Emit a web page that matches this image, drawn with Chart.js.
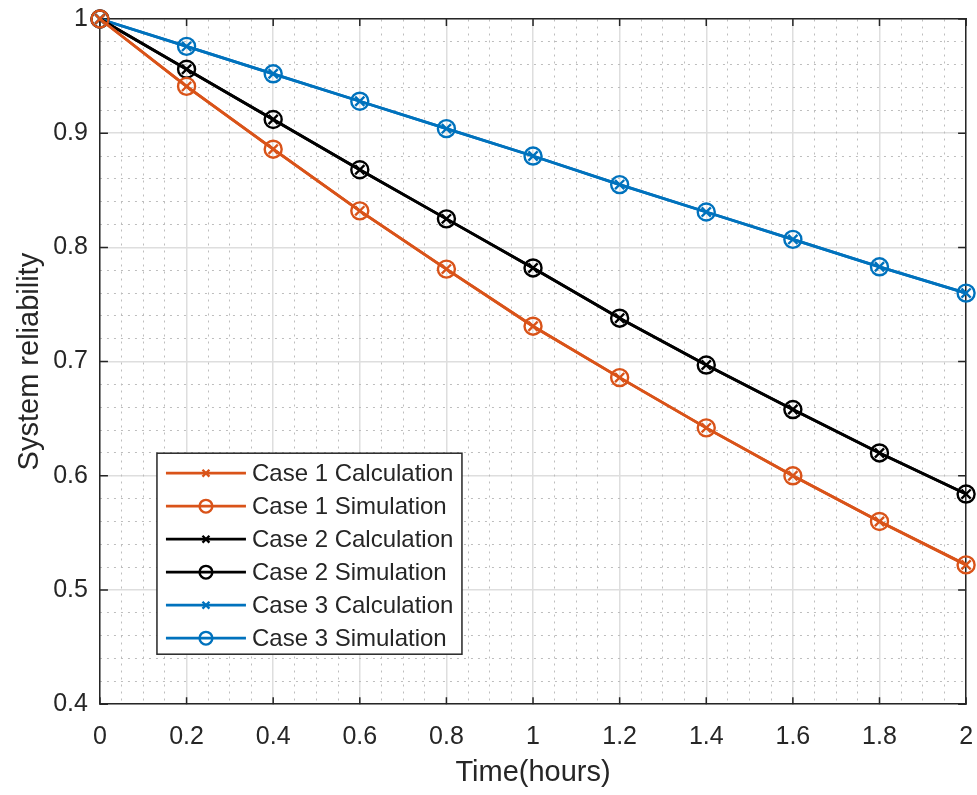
<!DOCTYPE html>
<html>
<head>
<meta charset="utf-8">
<title>System reliability</title>
<script src="https://cdn.jsdelivr.net/npm/chart.js@4.4.1/dist/chart.umd.min.js"></script>
<style>
  html, body { margin: 0; padding: 0; background: #fff; }
  #wrap { width: 977px; height: 795px; position: relative; }
</style>
</head>
<body>
<div id="wrap"><canvas id="reliabilityChart"></canvas></div>
<script>
// time axis (hours) and reliability for each case
const times = [0, 0.2, 0.4, 0.6, 0.8, 1.0, 1.2, 1.4, 1.6, 1.8, 2.0];

const case1Calc = [1, 0.941, 0.886, 0.832, 0.781, 0.731, 0.686, 0.642, 0.600, 0.560, 0.522];
const case1Sim  = [1, 0.941, 0.886, 0.832, 0.781, 0.731, 0.686, 0.642, 0.600, 0.560, 0.522];
const case2Calc = [1, 0.956, 0.912, 0.868, 0.825, 0.782, 0.738, 0.697, 0.658, 0.620, 0.584];
const case2Sim  = [1, 0.956, 0.912, 0.868, 0.825, 0.782, 0.738, 0.697, 0.658, 0.620, 0.584];
const case3Calc = [1, 0.976, 0.952, 0.928, 0.904, 0.880, 0.855, 0.831, 0.807, 0.783, 0.760];
const case3Sim  = [1, 0.976, 0.952, 0.928, 0.904, 0.880, 0.855, 0.831, 0.807, 0.783, 0.760];

const xTicks = [0, 0.2, 0.4, 0.6, 0.8, 1, 1.2, 1.4, 1.6, 1.8, 2];
const yTicks = [0.4, 0.5, 0.6, 0.7, 0.8, 0.9, 1];

const ORANGE = '#D95319';
const BLACK = '#000000';
const BLUE = '#0072BD';
const AXIS = '#262626';
const FONT = "'Liberation Sans', Arial, Helvetica, sans-serif";

const toPoints = vals => vals.map((v, i) => ({ x: times[i], y: v }));

function makeSeries(label, vals, color, style) {
    const isCircle = style === 'circle';
    return {
        label: label,
        data: toPoints(vals),
        borderColor: color,
        backgroundColor: color,
        borderWidth: 2.8,
        pointStyle: style,
        pointRadius: isCircle ? 8.5 : 6.5,
        pointBorderWidth: 2.4,
        pointBackgroundColor: 'rgba(0,0,0,0)',
        pointBorderColor: color,
        clip: false,
        tension: 0
    };
}

const datasets = [
    makeSeries('Case 1 Calculation', case1Calc, ORANGE, 'crossRot'),
    makeSeries('Case 1 Simulation', case1Sim, ORANGE, 'circle'),
    makeSeries('Case 2 Calculation', case2Calc, BLACK, 'crossRot'),
    makeSeries('Case 2 Simulation', case2Sim, BLACK, 'circle'),
    makeSeries('Case 3 Calculation', case3Calc, BLUE, 'crossRot'),
    makeSeries('Case 3 Simulation', case3Sim, BLUE, 'circle')
];

// inward tick marks on all four sides of the box
const innerTicks = {
    id: 'innerTicks',
    beforeDatasetsDraw(chart) {
        const { ctx, chartArea: a, scales } = chart;
        ctx.save();
        ctx.strokeStyle = AXIS;
        ctx.lineWidth = 1.5;
        ctx.beginPath();
        xTicks.forEach(v => {
            const px = scales.x.getPixelForValue(v);
            ctx.moveTo(px, a.bottom); ctx.lineTo(px, a.bottom - 7);
            ctx.moveTo(px, a.top); ctx.lineTo(px, a.top + 7);
        });
        yTicks.forEach(v => {
            const py = scales.y.getPixelForValue(v);
            ctx.moveTo(a.left, py); ctx.lineTo(a.left + 8, py);
            ctx.moveTo(a.right, py); ctx.lineTo(a.right - 8, py);
        });
        ctx.stroke();
        ctx.restore();
    }
};

// boxed legend in the lower-left of the plot area
const boxLegend = {
    id: 'boxLegend',
    afterDraw(chart) {
        const { ctx, chartArea: a } = chart;
        const left = a.left + 57, top = a.bottom - 251;
        const w = 305, h = 201, rowH = 33;
        ctx.save();
        ctx.fillStyle = '#fff';
        ctx.fillRect(left, top, w, h);
        ctx.strokeStyle = AXIS;
        ctx.lineWidth = 1.5;
        ctx.strokeRect(left, top, w, h);
        ctx.font = '24px ' + FONT;
        ctx.textBaseline = 'middle';
        chart.data.datasets.forEach((ds, i) => {
            const cy = top + 20 + i * rowH;
            ctx.strokeStyle = ds.borderColor;
            ctx.lineWidth = ds.borderWidth;
            ctx.beginPath();
            ctx.moveTo(left + 9, cy);
            ctx.lineTo(left + 89, cy);
            ctx.stroke();
            ctx.fillStyle = 'rgba(0,0,0,0)';
            ctx.lineWidth = ds.pointBorderWidth;
            Chart.helpers.drawPoint(ctx, {
                pointStyle: ds.pointStyle,
                radius: ds.pointRadius * 0.75,
                borderWidth: ds.pointBorderWidth,
                rotation: 0
            }, left + 49, cy);
            ctx.fillStyle = AXIS;
            ctx.fillText(ds.label, left + 95, cy + 1);
        });
        ctx.restore();
    }
};

const fmt = v => String(Number(v.toFixed(2)));

new Chart(document.getElementById('reliabilityChart'), {
    type: 'line',
    data: { datasets: datasets },
    options: {
        responsive: true,
        maintainAspectRatio: false,
        animation: false,
        layout: { padding: { top: 0, right: 0, left: 18, bottom: 19 } },
        plugins: {
            legend: { display: false },
            tooltip: { enabled: false }
        },
        scales: {
            x: {
                type: 'linear',
                min: 0, max: 2,
                afterBuildTicks: axis => { axis.ticks = xTicks.map(v => ({ value: v })); },
                ticks: { font: { family: FONT, size: 25, lineHeight: 2.48 }, color: AXIS, padding: 2, callback: fmt, maxRotation: 0, autoSkip: false },
                grid: { color: '#dedede', lineWidth: 1.5, drawTicks: false },
                border: { color: AXIS, width: 1.5 },
                title: { display: true, text: 'Time(hours)', color: AXIS, font: { family: FONT, size: 29, lineHeight: 0.2 }, padding: 0 }
            },
            y: {
                min: 0.4, max: 1,
                afterBuildTicks: axis => { axis.ticks = yTicks.map(v => ({ value: v })); },
                ticks: { font: { family: FONT, size: 25, lineHeight: 0.56 }, color: AXIS, padding: 12, callback: fmt, autoSkip: false },
                grid: { color: '#dedede', lineWidth: 1.5, drawTicks: false },
                border: { color: AXIS, width: 1.5 },
                title: { display: true, text: 'System reliability', color: AXIS, font: { family: FONT, size: 29, lineHeight: 0.8 }, padding: 0 }
            },
            // minor grid (dotted) plus the top/right edges of the box
            x2: {
                type: 'linear',
                position: 'top',
                min: 0, max: 2,
                ticks: { display: false, stepSize: 0.05, padding: 0 },
                grid: {
                    drawTicks: false,
                    lineWidth: 1,
                    color: c => (Math.round(c.tick.value * 20) % 4 === 0 ? 'rgba(0,0,0,0)' : '#bdbdbd')
                },
                border: { color: AXIS, width: 1.5, dash: [2, 5] }
            },
            y2: {
                position: 'right',
                min: 0.4, max: 1,
                ticks: { display: false, stepSize: 0.02, padding: 0 },
                grid: {
                    drawTicks: false,
                    lineWidth: 1,
                    color: c => (Math.round(c.tick.value * 50) % 5 === 0 ? 'rgba(0,0,0,0)' : '#bdbdbd')
                },
                border: { color: AXIS, width: 1.5, dash: [2, 5] }
            }
        }
    },
    plugins: [innerTicks, boxLegend]
});
</script>
</body>
</html>
